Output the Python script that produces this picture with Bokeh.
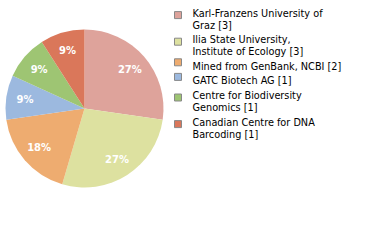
import numpy as np
from bokeh.plotting import figure
from bokeh.models import ColumnDataSource, Range1d
from bokeh.core.properties import value
from bokeh.embed import file_html
from bokeh.resources import INLINE

labels = [["Karl-Franzens University of", "Graz [3]"],
          ["Ilia State University,", "Institute of Ecology [3]"],
          ["Mined from GenBank, NCBI [2]"],
          ["GATC Biotech AG [1]"],
          ["Centre for Biodiversity", "Genomics [1]"],
          ["Canadian Centre for DNA", "Barcoding [1]"]]
counts = [3, 3, 2, 1, 1, 1]
pct_labels = ["27%", "27%", "18%", "9%", "9%", "9%"]
colors = ["#dea39b", "#dde1a0", "#eeac70", "#9cb9df", "#9ec573", "#da775a"]

W, H = 380, 240
cx, cy, R = 84, 240 - 108, 79

total = sum(counts)
fr = np.array(counts) / total
ends = np.pi / 2 - 2 * np.pi * np.cumsum(fr)
starts = np.concatenate([[np.pi / 2], ends[:-1]])
mids = (starts + ends) / 2

p = figure(width=W, height=H, x_range=Range1d(0, W), y_range=Range1d(0, H),
           output_backend="svg", toolbar_location=None, min_border=0)
p.axis.visible = False
p.grid.visible = False
p.outline_line_color = None
p.background_fill_color = "white"

src = ColumnDataSource(dict(start=starts, end=ends, color=colors))
p.wedge(x=cx, y=cy, radius=R, radius_units="screen", start_angle="start", end_angle="end",
        direction="clock", fill_color="color", line_color=None, source=src)

lr = 0.76 * R
p.text(x=cx + lr * np.cos(mids), y=cy + lr * np.sin(mids), text=pct_labels,
       text_color="white", text_font=value("DejaVu Sans"), text_font_style="bold",
       text_font_size="10px", text_align="center", text_baseline="middle")

# legend
line_h = 12.0
gap = 2.6
cap = 7.8
base = 12.5
sq_y, txt_y, txt = [], [], []
for entry in labels:
    first = base
    for line in entry:
        txt.append(line)
        txt_y.append(H - base)
        base += line_h
    last = base - line_h
    sq_y.append(H - ((first - cap) + last) / 2)
    base += gap
p.rect(x=[177.5] * len(labels), y=sq_y, width=7, height=7, fill_color=colors,
       line_color="#888888", line_width=1)
p.text(x=192, y=txt_y, text=txt, text_font=value("DejaVu Sans Condensed"),
       text_font_size="10.8px", text_color="black", text_baseline="alphabetic")

open("out.html", "w").write(file_html(p, INLINE))
